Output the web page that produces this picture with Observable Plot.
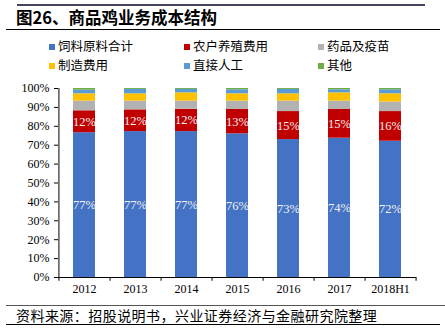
<!DOCTYPE html>
<html><head><meta charset="utf-8">
<script src="https://cdn.jsdelivr.net/npm/d3@7"></script>
<script src="https://cdn.jsdelivr.net/npm/@observablehq/plot@0.6"></script>
<style>
body{margin:0;background:#fff;}
#wrap{position:relative;width:445px;height:335px;overflow:hidden;font-family:"Noto Sans CJK SC",sans-serif;}
.abs{position:absolute;}
#legend .it{position:absolute;font-size:12.5px;line-height:14px;color:#000;white-space:nowrap;}
#legend .sw{display:inline-block;width:6px;height:6px;margin-right:3px;vertical-align:1px;}
</style></head>
<body><div id="wrap">
<div class="abs" style="top:4px;left:17px;width:408px;height:2px;background:#44445e"></div>
<div class="abs" id="title" style="top:6px;left:16px;font-size:16.5px;font-weight:bold;line-height:22px;color:#000"></div>
<div class="abs" style="top:29px;left:6px;width:434px;height:1px;background:#000"></div>
<div class="abs" id="legend" style="top:0;left:0"></div>
<div class="abs" id="chart" style="top:80px;left:0"></div>
<div class="abs" style="top:305px;left:6px;width:439px;height:1px;background:#555"></div>
<div class="abs" id="caption" style="top:306px;left:16px;font-size:14px;letter-spacing:0.45px;line-height:18px;color:#000;white-space:nowrap"></div>
<div class="abs" style="top:324px;left:6px;width:434px;height:1px;background:#000"></div>
</div>
<script>
const titleText = "图26、商品鸡业务成本结构";
const captionText = "资料来源：招股说明书，兴业证券经济与金融研究院整理";
const years = ["2012","2013","2014","2015","2016","2017","2018H1"];
const series = ["饲料原料合计","农户养殖费用","药品及疫苗","制造费用","直接人工","其他"];
const colors = ["#4472C4","#C00000","#B2B2B2","#FFC000","#5B9BD5","#70AD47"];
const feed     = [76.6, 77.2, 77.2, 76.0, 73.0, 73.7, 72.1];
const farmer   = [11.6, 11.5, 11.8, 12.9, 14.8, 15.2, 15.7];
const medicine = [5.1, 4.6, 4.3, 4.4, 5.5, 4.4, 5.0];
const making   = [3.9, 3.9, 4.4, 3.9, 3.9, 4.4, 4.4];
const labor    = [1.9, 2.3, 1.8, 2.1, 2.3, 1.6, 2.1];
const other    = [0.9, 0.5, 0.5, 0.7, 0.5, 0.7, 0.7];
const labeled  = ["饲料原料合计","农户养殖费用"];
const yTicks = [0,10,20,30,40,50,60,70,80,90,100];

document.getElementById("title").textContent = titleText;
document.getElementById("caption").textContent = captionText;

const cols = [feed, farmer, medicine, making, labor, other];
const data = [];
years.forEach((yr, i) => series.forEach((s, j) => data.push({year: yr, series: s, value: cols[j][i]})));

// legend
const legend = document.getElementById("legend");
const legX = [49, 184, 318], legY = [39, 58];
series.forEach((s, j) => {
  const d = document.createElement("div");
  d.className = "it";
  d.style.left = legX[j % 3] + "px";
  d.style.top = legY[Math.floor(j / 3)] + "px";
  d.innerHTML = `<span class="sw" style="background:${colors[j]}"></span>${s}`;
  legend.appendChild(d);
});

const W = 445, H = 220, mL = 58, mR = 29, mT = 8, mB = 23;
const step = (W - mL - mR) / years.length;
const pad = 0.57;
const serif = "'Liberation Serif','DejaVu Serif',serif";

const chart = Plot.plot({
  width: W, height: H, marginLeft: mL, marginRight: mR, marginTop: mT, marginBottom: mB,
  style: {fontFamily: serif, fontSize: "12px", color: "#000", background: "transparent"},
  x: {domain: years, paddingInner: pad, paddingOuter: pad / 2, axis: null, label: null},
  y: {domain: [0, 100], axis: null, label: null},
  color: {domain: series, range: colors},
  marks: [
    Plot.barY(data, {x: "year", y: "value", z: "series", fill: "series", order: series}),
    Plot.text(data, Plot.stackY({x: "year", y: "value", z: "series", order: series,
      text: d => labeled.includes(d.series) ? Math.round(d.value) + "%" : null,
      fill: "#f2f2f2", fontSize: 12.5})),
    // axis lines
    Plot.ruleY([0], {stroke: "#000", strokeWidth: 1}),
    Plot.ruleX([years[0]], {dx: -step / 2, y1: -2, y2: 100, stroke: "#000"}),
    // x boundary ticks
    Plot.ruleX(years, {dx: step / 2, y1: 0, y2: -2, stroke: "#000"}),
    Plot.axisX({tickSize: 0, tickPadding: 7, fontSize: 12, fontFamily: serif, label: null}),
    Plot.axisY({ticks: yTicks, tickSize: 4, tickPadding: 5, tickFormat: d => d + "%", fontSize: 12, fontFamily: serif, label: null})
  ]
});
document.getElementById("chart").appendChild(chart);
</script>
</body></html>
